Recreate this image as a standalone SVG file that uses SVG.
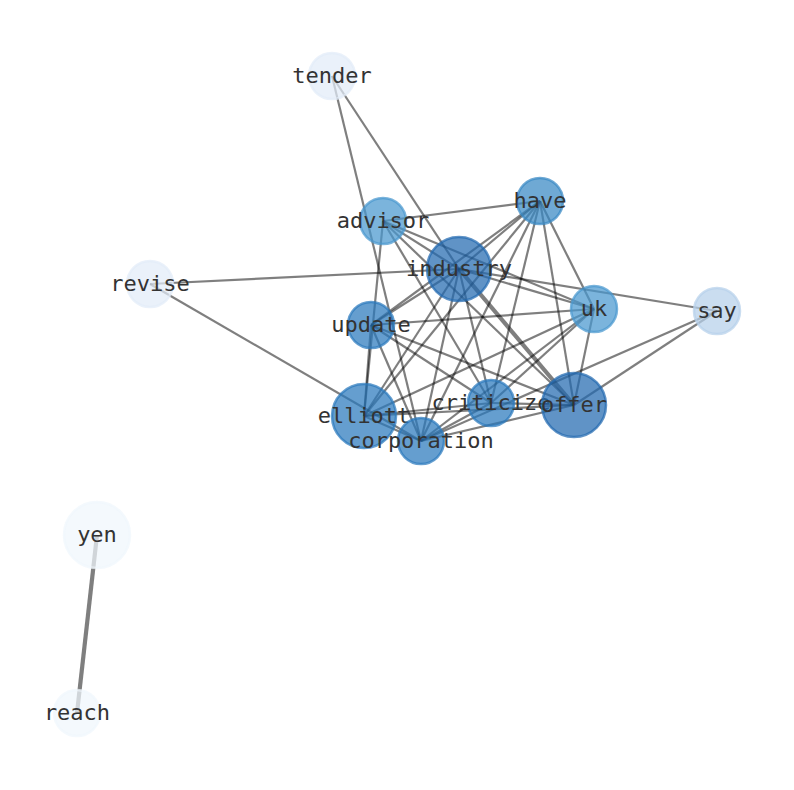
<svg xmlns="http://www.w3.org/2000/svg" width="794" height="790" viewBox="0 0 794 790">
<style>
.e{stroke:#000;stroke-opacity:0.5;stroke-width:2.2;fill:none;stroke-linecap:butt}
.w{stroke-width:4.2}
.n{stroke-width:2.5;fill-opacity:0.72;stroke-opacity:0.72}
text{font-family:"DejaVu Sans Mono","Liberation Mono",monospace;font-size:22px;fill:#333;text-anchor:middle}
</style>
<rect width="794" height="790" fill="#fff"/>
<g id="edges">
<line class="e" x1="332" y1="76" x2="421" y2="441"/>
<line class="e" x1="332" y1="76" x2="459" y2="269"/>
<line class="e" x1="150" y1="284" x2="459" y2="269"/>
<line class="e" x1="150" y1="284" x2="421" y2="441"/>
<line class="e" x1="383" y1="221" x2="540" y2="201"/>
<line class="e" x1="383" y1="221" x2="364" y2="416"/>
<line class="e" x1="383" y1="221" x2="594" y2="309"/>
<line class="e" x1="383" y1="221" x2="491" y2="403"/>
<line class="e" x1="383" y1="221" x2="574" y2="405"/>
<line class="e" x1="383" y1="221" x2="459" y2="269"/>
<line class="e" x1="540" y1="201" x2="459" y2="269"/>
<line class="e" x1="540" y1="201" x2="371" y2="325"/>
<line class="e" x1="540" y1="201" x2="364" y2="416"/>
<line class="e" x1="540" y1="201" x2="421" y2="441"/>
<line class="e" x1="540" y1="201" x2="491" y2="403"/>
<line class="e" x1="540" y1="201" x2="574" y2="405"/>
<line class="e" x1="540" y1="201" x2="594" y2="309"/>
<line class="e" x1="459" y1="269" x2="717" y2="311"/>
<line class="e w" x1="459" y1="269" x2="574" y2="405"/>
<line class="e" x1="459" y1="269" x2="371" y2="325"/>
<line class="e" x1="459" y1="269" x2="364" y2="416"/>
<line class="e" x1="459" y1="269" x2="421" y2="441"/>
<line class="e" x1="459" y1="269" x2="491" y2="403"/>
<line class="e" x1="459" y1="269" x2="594" y2="309"/>
<line class="e" x1="594" y1="309" x2="371" y2="325"/>
<line class="e" x1="594" y1="309" x2="364" y2="416"/>
<line class="e" x1="594" y1="309" x2="421" y2="441"/>
<line class="e" x1="594" y1="309" x2="491" y2="403"/>
<line class="e" x1="594" y1="309" x2="574" y2="405"/>
<line class="e" x1="717" y1="311" x2="574" y2="405"/>
<line class="e" x1="717" y1="311" x2="421" y2="441"/>
<line class="e" x1="371" y1="325" x2="364" y2="416"/>
<line class="e" x1="371" y1="325" x2="421" y2="441"/>
<line class="e" x1="371" y1="325" x2="491" y2="403"/>
<line class="e" x1="371" y1="325" x2="574" y2="405"/>
<line class="e" x1="364" y1="416" x2="421" y2="441"/>
<line class="e" x1="364" y1="416" x2="491" y2="403"/>
<line class="e" x1="364" y1="416" x2="574" y2="405"/>
<line class="e" x1="421" y1="441" x2="491" y2="403"/>
<line class="e" x1="421" y1="441" x2="574" y2="405"/>
<line class="e" x1="491" y1="403" x2="574" y2="405"/>
<line class="e w" x1="97" y1="535" x2="77" y2="713"/>
</g>
<g id="node-tender"><circle class="n" cx="332" cy="76" r="23" fill="#e2ecf8" stroke="#e2ecf8"/><text x="332" y="83">tender</text></g>
<g id="node-revise"><circle class="n" cx="150" cy="284" r="23" fill="#e2ecf8" stroke="#e2ecf8"/><text x="150" y="291">revise</text></g>
<g id="node-say"><circle class="n" cx="717" cy="311" r="23" fill="#b6d0ea" stroke="#b6d0ea"/><text x="717" y="318">say</text></g>
<g id="node-advisor"><circle class="n" cx="383" cy="221" r="23" fill="#4897ce" stroke="#4897ce"/><text x="383" y="228">advisor</text></g>
<g id="node-have"><circle class="n" cx="540" cy="201" r="23" fill="#3888c4" stroke="#3888c4"/><text x="540" y="208">have</text></g>
<g id="node-industry"><circle class="n" cx="459" cy="269" r="32" fill="#236ab0" stroke="#236ab0"/><text x="459" y="276">industry</text></g>
<g id="node-uk"><circle class="n" cx="594" cy="309" r="23" fill="#4897ce" stroke="#4897ce"/><text x="594" y="316">uk</text></g>
<g id="node-update"><circle class="n" cx="371" cy="325" r="23" fill="#2a78bc" stroke="#2a78bc"/><text x="371" y="332">update</text></g>
<g id="node-criticize"><circle class="n" cx="491" cy="403" r="23" fill="#2a78bc" stroke="#2a78bc"/><text x="491" y="410">criticize</text></g>
<g id="node-offer"><circle class="n" cx="574" cy="405" r="32" fill="#236ab0" stroke="#236ab0"/><text x="574" y="412">offer</text></g>
<g id="node-elliott"><circle class="n" cx="364" cy="416" r="32" fill="#2a78bc" stroke="#2a78bc"/><text x="364" y="423">elliott</text></g>
<g id="node-corporation"><circle class="n" cx="421" cy="441" r="23" fill="#2a78bc" stroke="#2a78bc"/><text x="421" y="448">corporation</text></g>
<g id="node-yen"><circle class="n" cx="97" cy="535" r="33" fill="#f0f6fc" stroke="#f0f6fc"/><text x="97" y="542">yen</text></g>
<g id="node-reach"><circle class="n" cx="77" cy="713" r="23" fill="#f0f6fc" stroke="#f0f6fc"/><text x="77" y="720">reach</text></g>
</svg>
